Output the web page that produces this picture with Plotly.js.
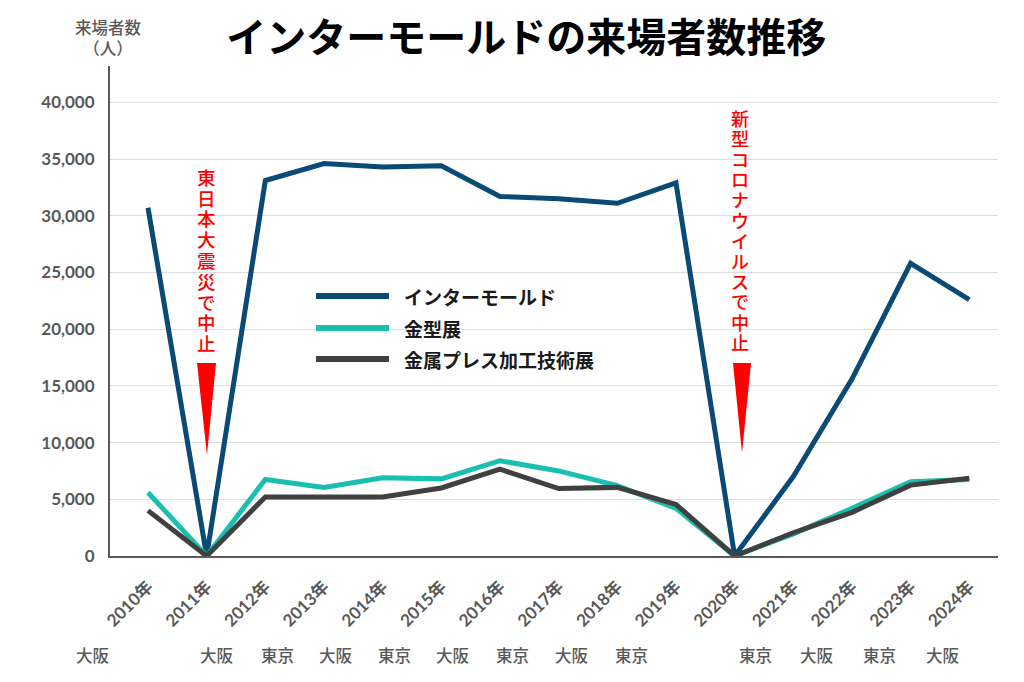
<!DOCTYPE html>
<html>
<head>
<meta charset="utf-8">
<script src="https://cdn.plot.ly/plotly-3.0.1.min.js"></script>
<style>
html,body{margin:0;padding:0;background:#fff;}
#chart{width:1024px;height:682px;}
</style>
</head>
<body>
<div id="chart"></div>
<script>
// ---- data ----
const years = ['2010年','2011年','2012年','2013年','2014年','2015年','2016年','2017年','2018年','2019年','2020年','2021年','2022年','2023年','2024年'];
const intermold = [30700, 0, 33100, 34600, 34300, 34400, 31700, 31500, 31100, 32900, 0, 7000, 15600, 25800, 22600];
const kanagata  = [5600, 0, 6750, 6050, 6900, 6800, 8400, 7500, 6200, 4200, 0, 1950, 4200, 6550, 6750];
const press     = [4000, 0, 5200, 5250, 5200, 6000, 7650, 5950, 6050, 4550, 0, 2050, 3850, 6250, 6850];
const seriesNames = ['インターモールド', '金型展', '金属プレス加工技術展'];
const cities = ['大阪','大阪','東京','大阪','東京','大阪','東京','大阪','東京','東京','大阪','東京','大阪'];
const note1 = '東日本大震災で中止';
const note2 = '新型コロナウイルスで中止';

// ---- layout helpers (positions only) ----
const cityPaperX = [-0.0191,0.1205,0.1881,0.2545,0.3209,0.3863,0.4538,0.5203,0.5878,0.7264,0.7962,0.8671,0.9381];
const colors = ['#0B4A74', '#1BBFB0', '#404040'];
const FONT = 'Lato, "Noto Sans CJK JP", sans-serif';
const CJK = '"Noto Sans CJK JP", sans-serif';
const PLOT_TOP = 66, PLOT_BOTTOM = 556;
const pyToPaper = py => (PLOT_BOTTOM - py) / (PLOT_BOTTOM - PLOT_TOP);

const traces = [
  {x: years, y: intermold, name: seriesNames[0], mode: 'lines', line: {color: colors[0], width: 5}},
  {x: years, y: kanagata, name: seriesNames[1], mode: 'lines', line: {color: colors[1], width: 5}},
  {x: years, y: press, name: seriesNames[2], mode: 'lines', line: {color: colors[2], width: 5}}
];

const annotations = [];
const shapes = [];

// y axis title
annotations.push({xref:'paper', yref:'paper', x:-0.002, y:1.0, xanchor:'center', yanchor:'bottom',
  yshift: 4, text:'来場者数<br>（人）', showarrow:false, align:'center',
  font:{family:CJK, size:16.5, color:'#595959', weight:500}});

// city labels
cities.forEach((c, i) => annotations.push({xref:'paper', yref:'paper', x:cityPaperX[i], y:-0.202,
  xanchor:'center', yanchor:'middle', text:c, showarrow:false,
  font:{family:CJK, size:16.5, color:'#595959', weight:500}}));

// vertical notes, one character per line
function verticalNote(text, xcat, xshift, yTop, yBottom, size) {
  const chars = text.split('');
  const step = (yBottom - yTop) / (chars.length - 1);
  chars.forEach((ch, i) => annotations.push({xref:'x', yref:'paper', x:xcat, xshift:xshift,
    y:pyToPaper(yTop + i * step), xanchor:'center', yanchor:'middle', text:ch, showarrow:false,
    font:{family:CJK, size:size, color:'#FF0000', weight:500}}));
}
verticalNote(note1, years[1], 0, 177, 343, 18.5);
verticalNote(note2, years[10], 5, 118, 342, 18);

// red triangles
shapes.push({type:'path', xref:'paper', yref:'paper', path:'M 0.0980 0.3939 L 0.1194 0.3939 L 0.1092 0.2061 Z',
  fillcolor:'#FF0000', line:{width:0}});
shapes.push({type:'path', xref:'paper', yref:'paper', path:'M 0.7016 0.3939 L 0.7219 0.3939 L 0.7117 0.2102 Z',
  fillcolor:'#FF0000', line:{width:0}});

// custom legend
const legY = [0.5306, 0.4653, 0.4020];
seriesNames.forEach((n, i) => {
  shapes.push({type:'line', xref:'paper', yref:'paper', x0:0.2320, x1:0.3142, y0:legY[i], y1:legY[i],
    line:{color:colors[i], width:6}});
  annotations.push({xref:'paper', yref:'paper', x:0.3288, y:legY[i], xanchor:'left', yanchor:'middle',
    text:n, showarrow:false, font:{family:CJK, size:19, color:'#1a1a1a', weight:'bold'}});
});

const layout = {
  width: 1024, height: 682,
  margin: {l:110, r:26, t:66, b:126},
  paper_bgcolor:'#fff', plot_bgcolor:'#fff',
  showlegend:false,
  hovermode:false,
  title: {text:'インターモールドの来場者数推移', x:0.514, xanchor:'center', y:0.945, yanchor:'middle',
    font:{family:CJK, size:40, color:'#000', weight:'bold'}},
  xaxis: {type:'category', range:[-0.648, 14.49], tickangle:-45, showgrid:false, zeroline:false,
    showline:true, linecolor:'#595959', linewidth:2, ticks:'outside', ticklen:12, tickcolor:'rgba(0,0,0,0)',
    tickfont:{family:FONT, size:17, color:'#595959', weight:'bold'}},
  yaxis: {range:[0, 43200], dtick:5000, tickformat:',d', showgrid:true, gridcolor:'#DDDDDD', gridwidth:1,
    zeroline:false, showline:true, linecolor:'#595959', linewidth:2, ticks:'outside', ticklen:10,
    tickcolor:'rgba(0,0,0,0)', tickfont:{family:FONT, size:17, color:'#595959', weight:'bold'}},
  annotations: annotations,
  shapes: shapes
};

Plotly.newPlot('chart', traces, layout, {displayModeBar:false, staticPlot:true});
</script>
</body>
</html>
